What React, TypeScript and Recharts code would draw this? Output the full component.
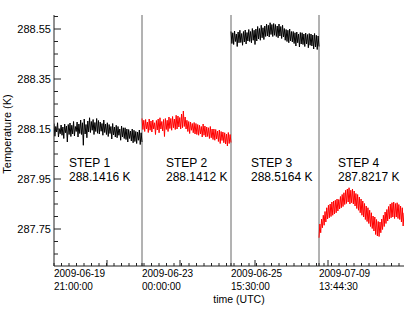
import { LineChart, Line, XAxis, YAxis, ReferenceLine, ReferenceDot } from "recharts";

const FONT = "'Liberation Sans', Arial, sans-serif";

// sample-index span of each run (runs are concatenated side by side)
const segStart = [0, 88, 177, 265];
const segEnd = [88, 177, 265, 350];
const dateLabels = ["2009-06-19", "2009-06-23", "2009-06-25", "2009-07-09"];
const timeLabels = ["21:00:00", "00:00:00", "15:30:00", "13:44:30"];
const stepNames = ["STEP 1", "STEP 2", "STEP 3", "STEP 4"];
const stepMeans = ["288.1416 K", "288.1412 K", "288.5164 K", "287.8217 K"];
const stepLabelX = [15, 112, 197, 284];
const stepColors = ["#000000", "#ff0000", "#000000", "#ff0000"];

const seg1 = [
  288.172, 288.121, 288.160, 288.138, 288.175, 288.118, 288.150, 288.131, 288.166, 288.125,
  288.158, 288.112, 288.170, 288.135, 288.162, 288.098, 288.168, 288.128, 288.174, 288.120,
  288.165, 288.130, 288.180, 288.122, 288.160, 288.140, 288.178, 288.118, 288.170, 288.132,
  288.186, 288.128, 288.175, 288.085, 288.190, 288.130, 288.168, 288.115, 288.182, 288.138,
  288.195, 288.136, 288.180, 288.145, 288.188, 288.128, 288.176, 288.140, 288.192, 288.133,
  288.184, 288.130, 288.178, 288.141, 288.172, 288.125, 288.186, 288.136, 288.170, 288.128,
  288.175, 288.120, 288.168, 288.132, 288.160, 288.110, 288.172, 288.126, 288.158, 288.118,
  288.165, 288.115, 288.160, 288.125, 288.150, 288.105, 288.162, 288.118, 288.155, 288.112,
  288.155, 288.108, 288.150, 288.098, 288.148, 288.112, 288.142, 288.102, 288.150, 288.095,
  288.145, 288.100, 288.140, 288.092, 288.138, 288.105, 288.146, 288.088, 288.135, 288.098,
];
const seg2 = [
  288.192, 288.148, 288.185, 288.140, 288.188, 288.150, 288.178, 288.136, 288.190, 288.145,
  288.182, 288.138, 288.186, 288.150, 288.175, 288.128, 288.184, 288.146, 288.190, 288.135,
  288.195, 288.150, 288.180, 288.142, 288.188, 288.120, 288.192, 288.148, 288.185, 288.140,
  288.198, 288.152, 288.192, 288.145, 288.200, 288.155, 288.190, 288.148, 288.205, 288.150,
  288.202, 288.158, 288.196, 288.150, 288.210, 288.155, 288.222, 288.160, 288.198, 288.150,
  288.185, 288.140, 288.180, 288.132, 288.178, 288.145, 288.172, 288.135, 288.176, 288.130,
  288.172, 288.128, 288.168, 288.125, 288.165, 288.130, 288.160, 288.118, 288.170, 288.125,
  288.162, 288.118, 288.158, 288.120, 288.155, 288.112, 288.160, 288.115, 288.150, 288.108,
  288.150, 288.105, 288.148, 288.110, 288.142, 288.100, 288.146, 288.092, 288.140, 288.104,
  288.138, 288.095, 288.135, 288.090, 288.130, 288.082, 288.136, 288.092, 288.128, 288.096,
];
const seg3 = [
  288.540, 288.492, 288.535, 288.488, 288.542, 288.500, 288.530, 288.480, 288.538, 288.495,
  288.545, 288.496, 288.532, 288.485, 288.540, 288.498, 288.546, 288.490, 288.536, 288.502,
  288.548, 288.500, 288.540, 288.495, 288.552, 288.505, 288.545, 288.488, 288.550, 288.502,
  288.560, 288.510, 288.552, 288.505, 288.565, 288.515, 288.555, 288.508, 288.562, 288.520,
  288.570, 288.522, 288.565, 288.518, 288.575, 288.528, 288.568, 288.520, 288.572, 288.525,
  288.568, 288.520, 288.562, 288.515, 288.570, 288.522, 288.560, 288.512, 288.565, 288.518,
  288.552, 288.505, 288.548, 288.500, 288.545, 288.495, 288.550, 288.502, 288.540, 288.498,
  288.540, 288.492, 288.535, 288.482, 288.538, 288.495, 288.530, 288.478, 288.536, 288.490,
  288.535, 288.488, 288.530, 288.480, 288.534, 288.490, 288.528, 288.475, 288.532, 288.485,
  288.530, 288.482, 288.526, 288.470, 288.532, 288.478, 288.525, 288.468, 288.522, 288.480,
];
const seg4 = [
  287.715, 287.770, 287.735, 287.790, 287.755, 287.805, 287.765, 287.820, 287.778, 287.835,
  287.790, 287.845, 287.795, 287.850, 287.800, 287.858, 287.805, 287.862, 287.810, 287.865,
  287.815, 287.870, 287.822, 287.868, 287.830, 287.880, 287.835, 287.888, 287.840, 287.895,
  287.848, 287.905, 287.852, 287.910, 287.858, 287.915, 287.850, 287.905, 287.855, 287.910,
  287.850, 287.902, 287.842, 287.892, 287.832, 287.888, 287.825, 287.878, 287.815, 287.870,
  287.805, 287.862, 287.798, 287.852, 287.788, 287.842, 287.780, 287.835, 287.772, 287.825,
  287.760, 287.815, 287.752, 287.802, 287.742, 287.798, 287.728, 287.788, 287.722, 287.780,
  287.720, 287.778, 287.735, 287.790, 287.748, 287.805, 287.760, 287.818, 287.772, 287.828,
  287.782, 287.840, 287.790, 287.850, 287.795, 287.855, 287.798, 287.858, 287.792, 287.852,
  287.798, 287.855, 287.792, 287.848, 287.788, 287.842, 287.778, 287.835, 287.762, 287.815,
];
const segments = [seg1, seg2, seg3, seg4];

const yMajor = [287.75, 287.95, 288.15, 288.35, 288.55];
const yMinor = [287.65, 287.7, 287.8, 287.85, 287.9, 288, 288.05, 288.1, 288.2, 288.25, 288.3, 288.4, 288.45, 288.5, 288.6];
const xMajor = [53, 126, 201, 274];
const xMinor = Array.from({ length: 47 }, (_, i) => i * 7.5);

const yDomain = [287.602, 288.606];
const yTicks = [...yMinor, ...yMajor].sort((a, b) => a - b);
const xTicks = Array.from(new Set([...xMinor, ...xMajor, ...segStart.slice(1)])).sort((a, b) => a - b);

function toPoints(values: number[], i: number) {
  const span = segEnd[i] - segStart[i];
  return values.map((v, k) => ({ t: segStart[i] + (k * span) / (values.length - 1), v }));
}

const BottomTick = (props: any) => {
  const { x, y, payload } = props;
  const idx = segStart.indexOf(payload.value);
  const len = xMajor.includes(payload.value) ? 6 : 3;
  return (
    <g>
      <line x1={x} y1={y} x2={x} y2={y - len} stroke="#222" />
      {idx >= 0 && (
        <text x={x} y={y + 11} fontSize={10} fontFamily={FONT} fill="#000" textAnchor="start">
          <tspan x={x}>{dateLabels[idx]}</tspan>
          <tspan x={x} dy={12.5}>{timeLabels[idx]}</tspan>
        </text>
      )}
    </g>
  );
};

const TopTick = (props: any) => {
  const { x, y, payload } = props;
  const len = xMajor.includes(payload.value) ? 6 : 3;
  return <line x1={x} y1={y} x2={x} y2={y + len} stroke="#222" />;
};

const LeftTick = (props: any) => {
  const { x, y, payload } = props;
  const major = yMajor.includes(payload.value);
  return (
    <g>
      <line x1={x} y1={y} x2={x + (major ? 7 : 4)} y2={y} stroke="#222" />
      {major && (
        <text x={x - 3} y={y + 4} fontSize={11} fontFamily={FONT} fill="#000" textAnchor="end">
          {payload.value.toFixed(2)}
        </text>
      )}
    </g>
  );
};

const RightTick = (props: any) => {
  const { x, y, payload } = props;
  const major = yMajor.includes(payload.value);
  return <line x1={x} y1={y} x2={x - (major ? 7 : 4)} y2={y} stroke="#222" />;
};

export default function App() {
  return (
    <div style={{ position: "absolute", left: 0, top: 0, background: "#fff" }}>
      <LineChart width={409} height={311} margin={{ top: 15, right: 5, bottom: 0, left: 0 }}>
        <XAxis
          xAxisId="b"
          type="number"
          dataKey="t"
          domain={[0, 350]}
          ticks={xTicks}
          interval={0}
          tick={BottomTick}
          tickLine={false}
          tickSize={0}
          tickMargin={0}
          axisLine={{ stroke: "#222" }}
          height={45}
          allowDataOverflow
          label={{
            content: ({ viewBox }: any) => (
              <text x={viewBox.x + viewBox.width / 2 + 10} y={303} fontSize={10.5} fontFamily={FONT} textAnchor="middle" fill="#000">
                time (UTC)
              </text>
            ),
          }}
        />
        <XAxis
          xAxisId="t"
          orientation="top"
          type="number"
          domain={[0, 350]}
          ticks={xTicks}
          interval={0}
          tick={TopTick}
          tickLine={false}
          tickSize={0}
          tickMargin={0}
          axisLine={{ stroke: "#222" }}
          height={0}
          allowDataOverflow
          label={{
            content: ({ viewBox }: any) => (
              <text x={viewBox.x + viewBox.width / 2 + 5} y={13} fontSize={12.5} fontFamily={FONT} textAnchor="middle" fill="#000">
                HYM Tuning: LBEM1 sensors
              </text>
            ),
          }}
        />
        <YAxis
          yAxisId="l"
          type="number"
          domain={yDomain}
          ticks={yTicks}
          interval={0}
          tick={LeftTick}
          tickLine={false}
          tickSize={0}
          tickMargin={0}
          axisLine={{ stroke: "#222" }}
          width={54}
          allowDataOverflow
          label={{
            content: () => (
              <text x={11} y={134} transform="rotate(-90 11 134)" fontSize={11} fontFamily={FONT} textAnchor="middle" fill="#000">
                Temperature (K)
              </text>
            ),
          }}
        />
        <YAxis
          yAxisId="r"
          orientation="right"
          type="number"
          domain={yDomain}
          ticks={yTicks}
          interval={0}
          tick={RightTick}
          tickLine={false}
          tickSize={0}
          tickMargin={0}
          axisLine={{ stroke: "#222" }}
          width={0}
          allowDataOverflow
        />
        {segStart.slice(1).map((s) => (
          <ReferenceLine key={s} x={s} xAxisId="b" yAxisId="l" stroke="#666" strokeWidth={1} />
        ))}
        {segments.map((seg, i) => (
          <Line
            key={i}
            xAxisId="b"
            yAxisId="l"
            data={toPoints(seg, i)}
            dataKey="v"
            type="linear"
            stroke={stepColors[i]}
            strokeWidth={1}
            dot={false}
            activeDot={false}
            isAnimationActive={false}
          />
        ))}
        {stepNames.map((name, i) => (
          <ReferenceDot
            key={name}
            xAxisId="b"
            yAxisId="l"
            x={stepLabelX[i]}
            y={288.0}
            r={0}
            shape={(p: any) => (
              <text x={p.cx} y={p.cy} fontSize={12} fontFamily={FONT} fill="#000">
                <tspan x={p.cx}>{name}</tspan>
                <tspan x={p.cx} dy={14}>{stepMeans[i]}</tspan>
              </text>
            )}
          />
        ))}
      </LineChart>
    </div>
  );
}
